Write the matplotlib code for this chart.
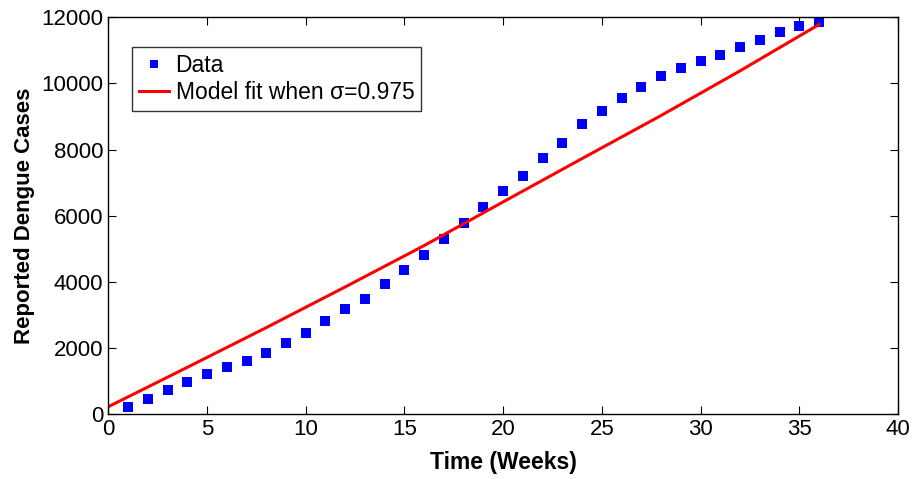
import numpy as np
import matplotlib
matplotlib.use("Agg")
from matplotlib import pyplot as plt

plt.rcParams['font.family'] = ['Liberation Sans', 'DejaVu Sans']

# reported dengue cases per week
weeks = np.arange(1, 37)
cases = [230, 471, 725, 985, 1208, 1420, 1619, 1861, 2145, 2447,
         2819, 3181, 3490, 3945, 4350, 4822, 5287, 5789, 6263, 6740,
         7190, 7743, 8205, 8761, 9172, 9565, 9897, 10230, 10471, 10674,
         10855, 11097, 11320, 11559, 11731, 11861]

# model curve (sigma = 0.975)
model_t = [0, 4, 8, 12, 16, 20, 24, 28, 32, 36]
model_v = [230, 1420, 2620, 3850, 5100, 6420, 7730, 9030, 10380, 11780]

fig = plt.figure(figsize=(9.21, 4.79), dpi=100)
ax = fig.add_axes([0.1176, 0.135, 0.8574, 0.829])

ax.plot(weeks, cases, 's', color='#0000ff', markersize=7, markeredgewidth=0,
        label='Data')
ax.plot(model_t, model_v, '-', color='#ff0000', lw=2.2,
        label='Model fit when σ=0.975')

ax.set_xlim(0, 40)
ax.set_ylim(0, 12000)
ax.set_xticks(range(0, 41, 5))
ax.set_yticks(range(0, 12001, 2000))
ax.tick_params(direction='in', top=True, right=True, labelsize=16, length=6)
for s in ax.spines.values():
    s.set_linewidth(1.0)

ax.set_xlabel('Time (Weeks)', fontsize=16.5, fontweight='bold', labelpad=8)
ax.set_ylabel('Reported Dengue Cases', fontsize=16, fontweight='bold', labelpad=5)

leg = ax.legend(loc='upper left', bbox_to_anchor=(0.030, 0.924), borderaxespad=0,
                fontsize=16.5, frameon=True, fancybox=False, edgecolor='black',
                handlelength=1.3, handletextpad=0.3, borderpad=0.3,
                labelspacing=0.15, markerscale=0.75)
leg.get_frame().set_linewidth(1.0)

fig.savefig('out.png', dpi=100)
